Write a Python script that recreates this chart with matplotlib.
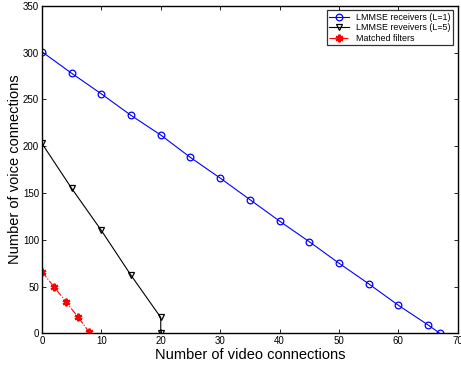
import matplotlib as mpl
mpl.use('Agg')
import matplotlib.pyplot as plt

# values
video_l1 = [0, 5, 10, 15, 20, 25, 30, 35, 40, 45, 50, 55, 60, 65, 67]
voice_l1 = [301, 278, 256, 233, 212, 188, 166, 143, 120, 98, 75, 53, 30, 9, 0]

video_l5 = [0, 5, 10, 15, 20, 20]
voice_l5 = [203, 155, 110, 62, 17, 0]

video_mf = [0, 2, 4, 6, 8]
voice_mf = [66, 50, 34, 18, 1]

xticks = list(range(0, 71, 10))
yticks = list(range(0, 351, 50))

plt.rcParams.update({'font.family': 'Liberation Sans', 'font.size': 7})

fig = plt.figure(figsize=(4.61, 3.70), dpi=100)
ax = fig.add_axes([0.091, 0.099, 0.902, 0.885])

ax.plot(video_l1, voice_l1, '-o', color='blue', lw=0.8, ms=4.8, mfc='none', mew=0.9,
        label='LMMSE receivers (L=1)')
ax.plot(video_l5, voice_l5, '-v', color='black', lw=0.8, ms=5, mfc='none', mew=0.9,
        label='LMMSE reveivers (L=5)')
# matlab style asterisk marker
ax.plot(video_mf, voice_mf, '-.', marker=(6, 2, 0), color='red', lw=0.8, ms=5.5, mew=1.6,
        label='Matched filters')

ax.set_xlim(0, 70)
ax.set_ylim(0, 350)
ax.set_xticks(xticks)
ax.set_yticks(yticks)
ax.tick_params(direction='in', top=True, right=True, length=3, width=0.6, labelsize=7, pad=2)
for s in ax.spines.values():
    s.set_linewidth(1.0)

ax.set_xlabel('Number of video connections', fontsize=10.5, labelpad=1)
ax.set_ylabel('Number of voice connections', fontsize=10.5, labelpad=1)

leg = ax.legend(loc='upper right', fontsize=6.4, frameon=True, fancybox=False,
                borderpad=0.3, handlelength=2.2, labelspacing=0.15, borderaxespad=0.5)
leg.get_frame().set_edgecolor('black')
leg.get_frame().set_linewidth(0.9)

fig.savefig('out.png', dpi=100)
